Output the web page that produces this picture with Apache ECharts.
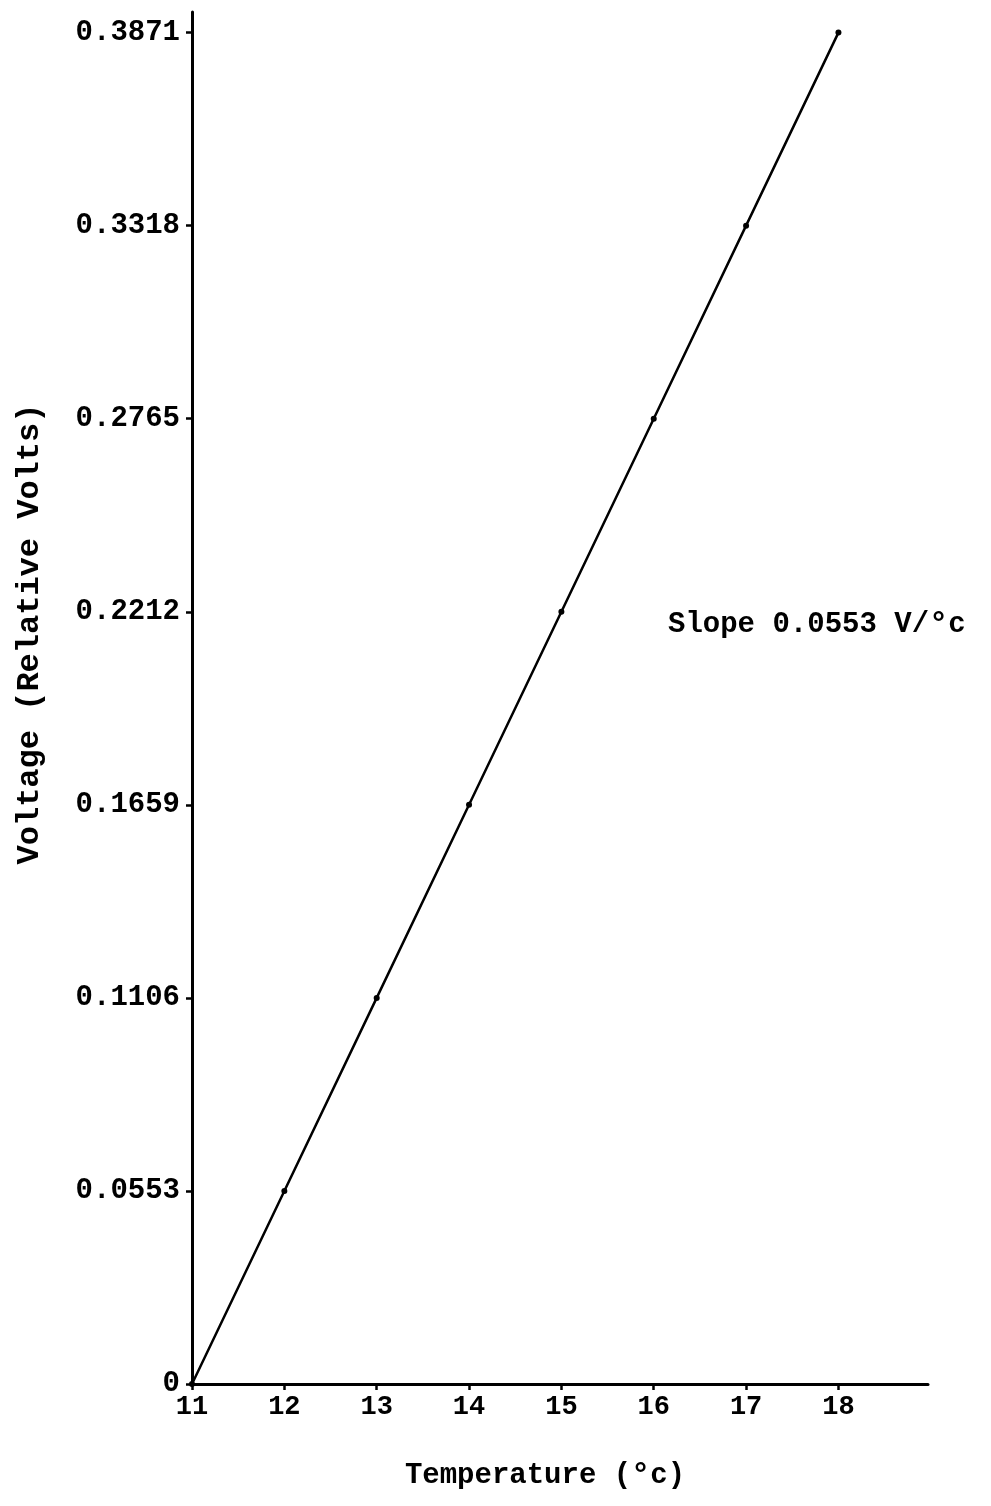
<!DOCTYPE html>
<html>
<head>
<meta charset="utf-8">
<script src="https://cdn.jsdelivr.net/npm/echarts@6/dist/echarts.min.js"></script>
<style>
html,body{margin:0;padding:0;background:#fff;}
#c{width:991px;height:1506px;}
</style>
</head>
<body>
<div id="c"></div>
<script>
const temperatures = [11, 12, 13, 14, 15, 16, 17, 18];
const voltages = [0, 0.0553, 0.1106, 0.1659, 0.2212, 0.2765, 0.3318, 0.3871];
const xTicks = [11, 12, 13, 14, 15, 16, 17, 18];
const yTicks = [0, 0.0553, 0.1106, 0.1659, 0.2212, 0.2765, 0.3318, 0.3871];
const yTickLabels = ['0', '0.0553', '0.1106', '0.1659', '0.2212', '0.2765', '0.3318', '0.3871'];
const slopeText = 'Slope 0.0553 V/';

const FONT = '"Liberation Mono", "DejaVu Sans Mono", monospace';
const chart = echarts.init(document.getElementById('c'));
chart.setOption({
  backgroundColor: '#fff',
  animation: false,
  grid: {left: 192, right: 63, top: 12, bottom: 122},
  xAxis: {
    type: 'value', min: 11, max: 18.97,
    splitLine: {show: false},
    axisLine: {lineStyle: {color: '#000', width: 3}},
    axisTick: {customValues: xTicks, length: 6, lineStyle: {color: '#000', width: 2.5}},
    axisLabel: {customValues: xTicks, color: '#000', fontFamily: FONT, fontWeight: 'bold', fontSize: 27, margin: 10},
    name: 'Temperature ({s|°}c)',
    nameLocation: 'middle', nameGap: 76,
    nameTextStyle: {color: '#000', fontFamily: FONT, fontWeight: 'bold', fontSize: 29, padding: [0, 30, 0, 0],
      rich: {s: {fontFamily: FONT, fontWeight: 'bold', fontSize: 32, color: '#000', verticalAlign: 'top'}}}
  },
  yAxis: {
    type: 'value', min: 0, max: 0.393,
    splitLine: {show: false},
    axisLine: {lineStyle: {color: '#000', width: 3}},
    axisTick: {customValues: yTicks, length: 6, lineStyle: {color: '#000', width: 2.5}},
    axisLabel: {customValues: yTicks, color: '#000', fontFamily: FONT, fontWeight: 'bold', fontSize: 29, margin: 12,
      formatter: function (v) { const i = yTicks.indexOf(v); return i >= 0 ? yTickLabels[i] : ''; }},
    name: 'Voltage (Relative Volts)',
    nameLocation: 'middle', nameGap: 146, nameRotate: 90,
    nameTextStyle: {color: '#000', fontFamily: FONT, fontWeight: 'bold', fontSize: 32, padding: [0, 0, 0, 128]}
  },
  series: [{
    type: 'line',
    data: temperatures.map((t, i) => [t, voltages[i]]),
    symbol: 'circle', symbolSize: 6,
    itemStyle: {color: '#000'},
    lineStyle: {color: '#000', width: 2.5}
  }],
  graphic: [{
    type: 'text', left: 668, top: 609,
    style: {text: slopeText + '{s|°}c', fill: '#000', font: 'bold 29px ' + FONT,
      rich: {s: {fontFamily: FONT, fontWeight: 'bold', fontSize: 32, fill: '#000', verticalAlign: 'top'}}}
  }]
});
</script>
</body>
</html>
